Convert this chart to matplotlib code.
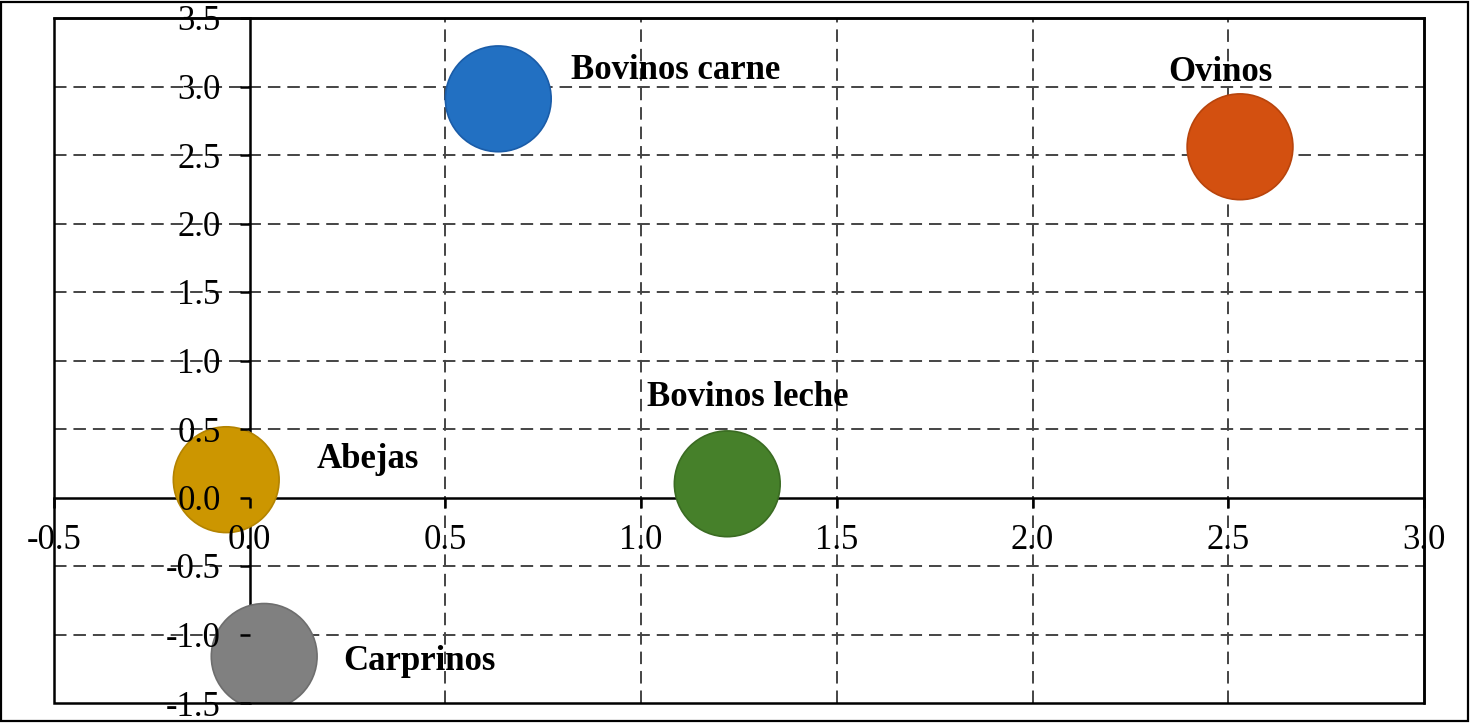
import matplotlib.pyplot as plt
from matplotlib.patches import Rectangle
import numpy as np

# datos
especies = ["Bovinos carne", "Ovinos", "Bovinos leche", "Abejas", "Carprinos"]
valores_x = [0.635, 2.53, 1.22, -0.06, 0.037]
valores_y = [2.91, 2.56, 0.10, 0.13, -1.16]
colores = ["#2270C2", "#D35010", "#46802A", "#CC9600", "#808080"]
bordes = ["#1A5CA8", "#B8440C", "#3A6B22", "#B38300", "#6E6E6E"]

ticks_x = np.arange(-0.5, 3.01, 0.5)
ticks_y = np.arange(-1.5, 3.51, 0.5)

# posicion de las etiquetas respecto a la burbuja (pixeles) y alineacion
desplaz = [(73, 28), (-20, 74), (20, 86), (90, 20), (79, -5)]
alineacion = ["left", "center", "center", "left", "left"]

plt.rcParams['font.family'] = ['Liberation Serif', 'DejaVu Serif']
plt.rcParams['lines.scale_dashes'] = False

fig = plt.figure(figsize=(14.73, 7.24), dpi=100)
ax = fig.add_axes([54 / 1473, 21 / 724, 1370 / 1473, 685 / 724])

# cuadricula punteada, debajo de las burbujas
for xv in ticks_x[1:-1]:
    if abs(xv) > 1e-9:
        ax.axvline(xv, color="#444444", lw=1.4, linestyle=(0, (9, 5)), zorder=0.5)
for yv in ticks_y[1:-1]:
    if abs(yv) > 1e-9:
        ax.axhline(yv, color="#444444", lw=1.4, linestyle=(0, (9, 5)), zorder=0.5)

ax.scatter(valores_x, valores_y, s=5800, c=colores, edgecolors=bordes,
           linewidths=1.2, zorder=2)

for i, nombre in enumerate(especies):
    ax.annotate(nombre, (valores_x[i], valores_y[i]), xytext=desplaz[i],
                textcoords="offset pixels", ha=alineacion[i], va="center",
                fontsize=25, fontweight="bold", zorder=4)

ax.set_xlim(-0.5, 3.0)
ax.set_ylim(-1.5, 3.5)
ax.set_xticks(ticks_x)
ax.set_yticks(ticks_y)
ax.set_xticklabels([f"{v:.1f}" for v in ticks_x])
ax.set_yticklabels([f"{v:.1f}" for v in ticks_y])

# ejes cruzando en el origen
ax.spines['left'].set_position(('data', 0))
ax.spines['bottom'].set_position(('data', 0))
for lado in ['left', 'bottom', 'top', 'right']:
    ax.spines[lado].set_linewidth(1.8)
    ax.spines[lado].set_zorder(1.5)
ax.add_patch(Rectangle((0, 0), 1, 1, transform=ax.transAxes, fill=False,
                       lw=1.8, edgecolor="black", clip_on=False, zorder=5))

ax.tick_params(axis='both', direction='out', length=7, width=1.8,
               labelsize=25)
ax.tick_params(axis='y', pad=14)
ax.tick_params(axis='x', pad=12)
ax.xaxis.set_zorder(3)
ax.yaxis.set_zorder(3)

# marco exterior de la figura
fig.add_artist(Rectangle((1 / 1473, 3 / 724), 1467 / 1473, 719 / 724,
                         transform=fig.transFigure, fill=False, lw=1.6,
                         edgecolor="black"))

fig.savefig("out.png", dpi=100)
